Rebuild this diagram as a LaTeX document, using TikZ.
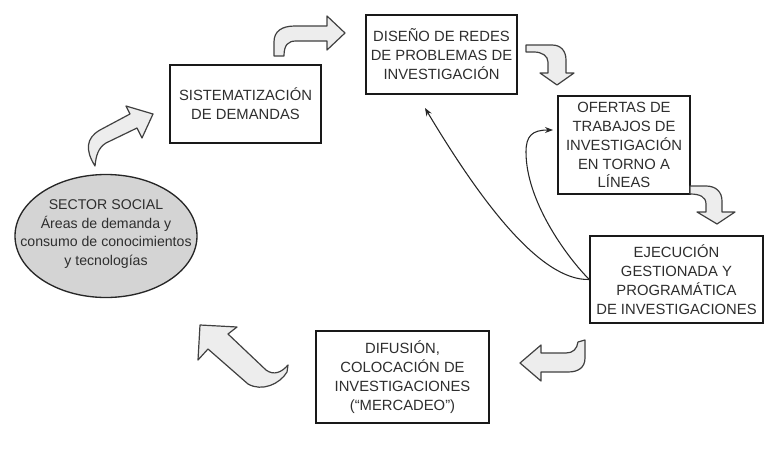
\documentclass[tikz,border=0pt]{standalone}
\usepackage{fontspec}
\setmainfont{Liberation Sans}
\usetikzlibrary{arrows.meta}
\begin{document}
\begin{tikzpicture}[x=0.75pt,y=-0.75pt,
  txt/.style={font=\fontsize{11.1}{14.2}\selectfont, text=black!82, align=center, inner sep=0pt},
  boxnode/.style={txt, draw=black!90, line width=1.1pt, fill=white},
  ellfill/.style={draw=black!85, line width=1pt, fill=black!17},
  blockarrow/.style={draw=black!75, line width=0.9pt, fill=black!7, line join=round},
  thin/.style={draw=black!85, line width=0.8pt, -{Stealth[length=6pt,width=4.5pt]}}]
\useasboundingbox (0,0) rectangle (783,464);

% nodes
\node[boxnode, minimum width=113.25pt, minimum height=58.5pt] (sist) at (245.5,104)
  {SISTEMATIZACIÓN\\DE DEMANDAS};
\node[boxnode, minimum width=113.25pt, minimum height=59.25pt] (dis) at (441.5,54.5)
  {DISEÑO DE REDES\\DE PROBLEMAS DE\\INVESTIGACIÓN};
\node[boxnode, minimum width=99pt, minimum height=73.5pt] (ofe) at (624,145)
  {OFERTAS DE\\TRABAJOS DE\\INVESTIGACIÓN\\EN TORNO A\\LÍNEAS};
\node[boxnode, minimum width=129.75pt, minimum height=65.25pt] (eje) at (676.5,279.5)
  {EJECUCIÓN\\GESTIONADA Y\\PROGRAMÁTICA\\DE INVESTIGACIONES};
\node[boxnode, minimum width=129.75pt, minimum height=69pt] (dif) at (402.5,377)
  {DIFUSIÓN,\\COLOCACIÓN DE\\INVESTIGACIONES\\(“MERCADEO”)};
\path[ellfill] (106,236) ellipse [x radius=91, y radius=61.5];
\node[txt, font=\fontsize{10.6}{14.2}\selectfont] (soc) at (106,234)
  {SECTOR SOCIAL\\Áreas de demanda y\\consumo de conocimientos\\y tecnologías};

% block arrows
% sector social -> sistematizacion
\path[blockarrow] (95,166) .. controls (85,150) and (86,138) .. (100,130) -- (130,114) -- (126,106)
  -- (153,114) -- (142,138) -- (137,128) -- (106,143) .. controls (98,148) and (96,156) .. (95,166) -- cycle;
% sistematizacion -> diseno
\path[blockarrow] (274,56) -- (274,42) .. controls (274,31) and (282,26) .. (295,26) -- (327,26) -- (327,16)
  -- (345,33) -- (327,50) -- (327,41) -- (296,41) .. controls (288,41) and (284,45) .. (284,56) -- cycle;
% diseno -> ofertas
\path[blockarrow] (526,45) -- (552,45) .. controls (561,45) and (566,51) .. (566,60) -- (566,73) -- (574,73)
  -- (557,85) -- (540,73) -- (548,73) -- (548,62) .. controls (548,56) and (542,52) .. (534,52) -- (526,52) -- cycle;
% ofertas -> ejecucion
\path[blockarrow] (690,186) -- (706,186) .. controls (716,186) and (722,192) .. (722,201) -- (722,212) -- (735,212)
  -- (717,224) -- (697,212) -- (706,212) -- (706,204) .. controls (706,197) and (700,194) .. (690,194) -- cycle;
% ejecucion -> difusion
\path[blockarrow] (585,340) -- (585,358) .. controls (585,367) and (579,372) .. (568,372) -- (541,372) -- (541,381)
  -- (520,363) -- (541,345) -- (541,353) -- (566,353) .. controls (573,353) and (577,349) .. (578,342) -- cycle;
% difusion -> sector social
\path[blockarrow] (200,325) -- (237,327) -- (228,334) -- (266,370) .. controls (274,376) and (282,372) .. (288,365)
  -- (287,372) .. controls (280,384) and (262,392) .. (248,384) -- (208,349) -- (198,360) -- cycle;

% thin arrows
\coordinate (t1) at (425,108);
\coordinate (t2) at (553,130);
\draw[thin] (eje.west) .. controls (540,281) and (480,200) .. (t1);
\draw[thin] (eje.west) .. controls (565,255) and (526,200) .. (526,152) .. controls (526,136) and (532,130) .. (t2);
\end{tikzpicture}
\end{document}
